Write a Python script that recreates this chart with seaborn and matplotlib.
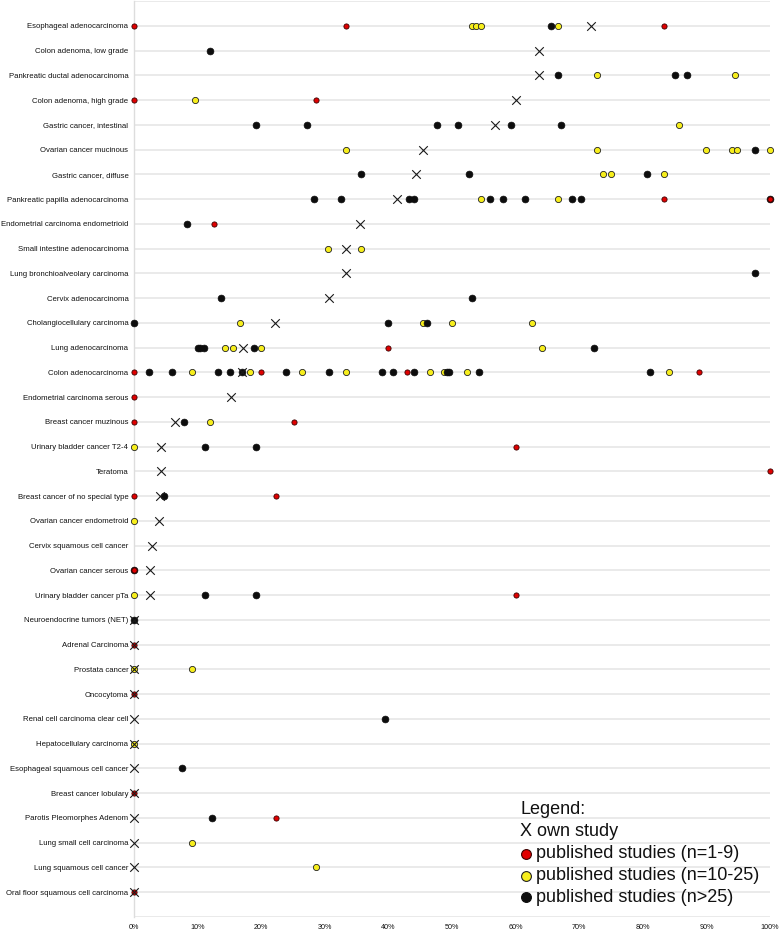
import matplotlib
matplotlib.use("Agg")
import matplotlib.pyplot as plt
import pandas as pd
import seaborn as sns

categories = [
    "Esophageal adenocarcinoma", "Colon adenoma, low grade", "Pankreatic ductal adenocarcinoma",
    "Colon adenoma, high grade", "Gastric cancer, intestinal", "Ovarian cancer mucinous",
    "Gastric cancer, diffuse", "Pankreatic papilla adenocarcinoma", "Endometrial carcinoma endometrioid",
    "Small intestine adenocarcinoma", "Lung bronchioalveolary carcinoma", "Cervix adenocarcinoma",
    "Cholangiocellulary carcinoma", "Lung adenocarcinoma", "Colon adenocarcinoma",
    "Endometrial carcinoma serous", "Breast cancer muzinous", "Urinary bladder cancer T2-4",
    "Teratoma", "Breast cancer of no special type", "Ovarian cancer endometroid",
    "Cervix squamous cell cancer", "Ovarian cancer serous", "Urinary bladder cancer pTa",
    "Neuroendocrine tumors (NET)", "Adrenal Carcinoma", "Prostata cancer", "Oncocytoma",
    "Renal cell carcinoma clear cell", "Hepatocellulary carcinoma", "Esophageal squamous cell cancer",
    "Breast cancer lobulary", "Parotis Pleomorphes Adenom", "Lung small cell carcinoma",
    "Lung squamous cell cancer", "Oral floor squamous cell carcinoma",
]

own_study = [71.8, 63.7, 63.7, 60.1, 56.8, 45.4, 44.4, 41.3, 35.6, 33.4, 33.4, 30.6, 22.2, 17.2,
             17.0, 15.2, 6.4, 4.2, 4.2, 4.1, 3.9, 2.8, 2.5, 2.5, 0, 0, 0, 0, 0, 0, 0, 0, 0, 0, 0, 0]

# published studies n=1-9 (red)
studies_small = [
    [0, 33.4, 83.3], [], [], [0, 28.6], [], [], [], [83.3, 100], [12.6], [], [], [], [], [40.0],
    [0, 20.0, 42.9, 88.9], [0], [0, 25.1], [60.0], [100], [0, 22.3], [], [], [0], [60.0],
    [], [0], [], [0], [], [], [], [0], [22.3], [], [], [0],
]

# published studies n=10-25 (yellow)
studies_medium = [
    [53.2, 53.8, 54.5, 66.7], [], [72.8, 94.5], [9.6], [85.7], [33.4, 72.8, 90.0, 94.0, 94.8, 100],
    [73.7, 75.0, 83.3], [54.6, 66.7], [], [30.5, 35.7], [], [], [16.7, 45.5, 50.0, 62.6],
    [14.3, 15.5, 20.0, 64.1], [9.1, 18.3, 26.4, 33.4, 46.6, 48.8, 52.4, 84.1], [], [11.9], [0],
    [], [], [0], [], [], [0], [], [], [0, 9.1], [], [], [0], [], [], [], [9.1], [28.6], [],
]

# published studies n>25 (black)
studies_large = [
    [65.5], [11.9], [66.6, 85.1, 87.0], [], [19.2, 27.2, 47.6, 51.0, 59.2, 67.1], [97.6],
    [35.7, 52.7, 80.7], [28.3, 32.6, 43.3, 44.1, 55.9, 58.0, 61.5, 68.9, 70.3, 100], [8.3], [],
    [97.6], [13.7, 53.2], [0, 40.0, 46.1], [10.0, 10.4, 11.0, 18.8, 72.4],
    [2.4, 6.0, 13.2, 15.1, 17.0, 23.9, 30.6, 39.0, 40.8, 44.0, 49.2, 49.6, 54.2, 81.2],
    [], [7.8], [11.1, 19.2], [], [4.7], [], [], [0], [11.1, 19.2], [0], [], [], [],
    [39.4], [], [7.5], [], [12.2], [], [], [],
]

x_ticks = [0, 10, 20, 30, 40, 50, 60, 70, 80, 90, 100]
x_tick_labels = ["0%", "10%", "20%", "30%", "40%", "50%", "60%", "70%", "80%", "90%", "100%"]

legend_title = "Legend:"
legend_labels = ["X own study", "published studies (n=1-9)", "published studies (n=10-25)",
                 "published studies (n>25)"]

RED = "#e00000"
YELLOW = "#f7ee1c"
BLACK = "#0d0d0d"


def to_long(groups):
    rows = []
    for i, vals in enumerate(groups):
        for v in vals:
            rows.append((categories[i], i, v))
    return pd.DataFrame(rows, columns=["category", "row", "value"])


df_own = pd.DataFrame({"category": categories, "row": range(len(categories)), "value": own_study})
df_small = to_long(studies_small)
df_medium = to_long(studies_medium)
df_large = to_long(studies_large)

sns.set_theme(style="white")
plt.rcParams["font.family"] = ["Liberation Sans", "DejaVu Sans"]

W, H = 782, 932
fig = plt.figure(figsize=(W / 100, H / 100), dpi=100)
ax = fig.add_axes([134 / W, 1 - 917 / H, 636 / W, 916 / H])

sns.scatterplot(data=df_medium, x="value", y="row", ax=ax, color=YELLOW, s=20,
                edgecolor="#222222", linewidth=0.6, zorder=3, legend=False, clip_on=False)
sns.scatterplot(data=df_large, x="value", y="row", ax=ax, color=BLACK, s=24,
                edgecolor=BLACK, linewidth=0.5, zorder=4, legend=False, clip_on=False)
sns.scatterplot(data=df_small, x="value", y="row", ax=ax, color=RED, s=14,
                edgecolor="#3a0000", linewidth=0.6, zorder=5, legend=False, clip_on=False)
sns.scatterplot(data=df_own, x="value", y="row", ax=ax, marker="x", color="#1a1a1a", s=38,
                linewidth=0.8, zorder=6, legend=False, clip_on=False)

ax.set_xlim(0, 100)
ax.set_ylim(len(categories), -1)
ax.set_yticks(range(-1, len(categories) + 1))
ax.set_yticklabels([""] + categories + [""], fontsize=5.6, color="#111111")
ax.set_xticks(x_ticks)
ax.set_xticklabels(x_tick_labels, fontsize=5.2, color="#111111")
ax.tick_params(axis="both", length=0)
ax.tick_params(axis="y", pad=4)
ax.tick_params(axis="x", pad=5)
ax.set_xlabel("")
ax.set_ylabel("")
ax.grid(axis="y", color="#e6e6e6", linewidth=1.2)
ax.grid(axis="x", visible=False)
ax.set_axisbelow(True)
for side in ["top", "right", "bottom"]:
    ax.spines[side].set_visible(False)
ax.spines["left"].set_color("#dddddd")
ax.spines["left"].set_linewidth(1.0)

# legend (manual, as in the reference)
fs = 13
fig.text(520 / W, 1 - 810 / H, legend_title, fontsize=fs, va="center", ha="left", color="#111111")
fig.text(520 / W, 1 - 832 / H, legend_labels[0], fontsize=fs, va="center", ha="left", color="#111111")
marker_colors = [RED, YELLOW, BLACK]
marker_edges = ["#3a0000", "#222222", BLACK]
for k, (col, ec) in enumerate(zip(marker_colors, marker_edges)):
    yy = 1 - (854 + 21.7 * k) / H
    ax.scatter([526 / W], [yy], s=50, color=col, edgecolor=ec, linewidth=0.8,
               transform=fig.transFigure, clip_on=False, zorder=10)
    fig.text(536 / W, yy, legend_labels[k + 1], fontsize=fs, va="center", ha="left", color="#111111")

fig.savefig("out.png", dpi=100)
